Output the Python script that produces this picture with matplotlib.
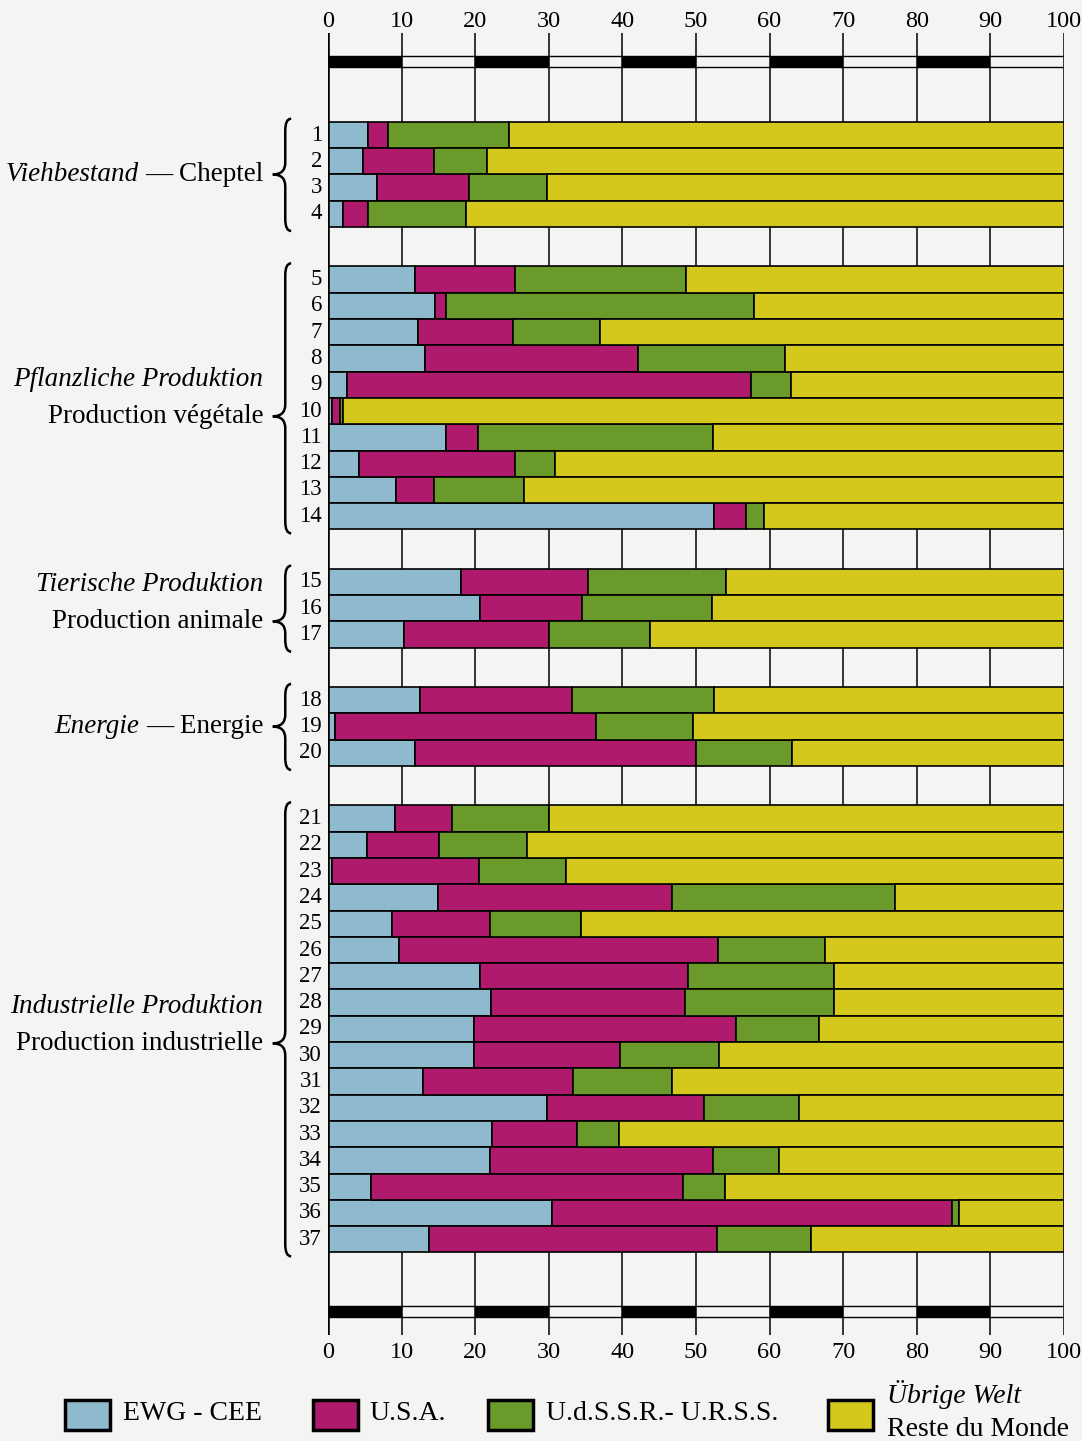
import numpy as np
import matplotlib
matplotlib.use("Agg")
import matplotlib.pyplot as plt
from matplotlib.patches import Rectangle, PathPatch
from matplotlib.path import Path

# shares in percent, rows 1..37
ewg = [5.4, 4.7, 6.7, 2.1,
       11.8, 14.6, 12.2, 13.2, 2.6, 0.5, 16.1, 4.2, 9.2, 52.5,
       18.1, 20.7, 10.4,
       12.5, 1.0, 11.8,
       9.1, 5.3, 0.5, 14.9, 8.7, 9.7, 20.7, 22.2, 19.8, 19.8, 12.9, 29.8, 22.3, 22.0, 5.8, 30.4, 13.7]
usa = [2.8, 9.7, 12.4, 3.4,
       13.6, 1.5, 13.0, 28.9, 54.9, 1.1, 4.3, 21.2, 5.2, 4.3,
       17.2, 13.8, 19.6,
       20.6, 35.4, 38.2,
       7.7, 9.8, 20.0, 31.8, 13.3, 43.3, 28.2, 26.3, 35.6, 19.9, 20.4, 21.3, 11.5, 30.3, 42.4, 54.4, 39.2]
udssr = [16.4, 7.2, 10.6, 13.3,
         23.3, 41.8, 11.7, 20.0, 5.4, 0.5, 31.9, 5.5, 12.2, 2.5,
         18.8, 17.7, 13.7,
         19.4, 13.2, 13.1,
         13.3, 11.9, 11.9, 30.4, 12.4, 14.6, 19.8, 20.2, 11.3, 13.4, 13.5, 12.9, 5.8, 9.0, 5.7, 1.0, 12.8]
rest = [75.4, 78.4, 70.3, 81.2,
        51.3, 42.1, 63.1, 37.9, 37.1, 97.9, 47.7, 69.1, 73.4, 40.7,
        45.9, 47.8, 56.3,
        47.5, 50.4, 36.9,
        69.9, 73.0, 67.6, 22.9, 65.6, 32.4, 31.3, 31.3, 33.3, 46.9, 53.2, 36.0, 60.4, 38.7, 46.1, 14.2, 34.3]

section_sizes = [4, 10, 3, 3, 17]
section_de = ["Viehbestand", "Pflanzliche Produktion", "Tierische Produktion",
              "Energie", "Industrielle Produktion"]
section_fr = ["Cheptel", "Production végétale", "Production animale",
              "Energie", "Production industrielle"]
one_line = [True, False, False, True, False]

series_names = ["EWG - CEE", "U.S.A.", "U.d.S.S.R.- U.R.S.S.", "Übrige Welt"]
colors = ["#8fb9cc", "#b01a6c", "#6a9a2a", "#d5c81c"]
paper = "#f4f4f2"

plt.rcParams["font.family"] = ["Liberation Serif", "DejaVu Serif"]

# row positions: sections separated by a gap of 1.5 rows
ypos = []
start = 0.0
for s in section_sizes:
    ypos.extend(start + np.arange(s))
    start += s + 1.5
ypos = np.array(ypos)

fig = plt.figure(figsize=(10.82, 14.41), dpi=100, facecolor=paper)
ax = fig.add_axes([0.3031, 0.0736, 0.6802, 0.9035])
ax.set_facecolor(paper)
ax.set_xlim(0, 100)
ax.set_ylim(45.64, -3.88)
for sp in ax.spines.values():
    sp.set_visible(False)

# vertical scale lines
ax.vlines(np.arange(10, 101, 10), -3.88, 45.64, color="black", lw=1.1, zorder=1)
ax.vlines(0, -3.88, 45.64, color="black", lw=2.6, zorder=4)

# scale bars at top and bottom
for yb in (-2.81, 44.75):
    h = 0.42
    ax.hlines([yb - h / 2, yb + h / 2], 0, 100, color="black", lw=1.0, zorder=2)
    ax.barh(yb, 10, left=np.arange(0, 100, 20), height=h, color="black", zorder=2)

# stacked bars
left = np.zeros(len(ewg))
for vals, c in zip([ewg, usa, udssr, rest], colors):
    ax.barh(ypos, vals, left=left, height=1.0, color=c, edgecolor="black",
            linewidth=1.2, zorder=3)
    left = left + np.array(vals)

# ticks
ax.set_xticks(np.arange(0, 101, 10))
ax.set_yticks([])
ax.tick_params(axis="x", length=0, pad=5, labelsize=17.5)
top = ax.secondary_xaxis("top")
top.set_xticks(np.arange(0, 101, 10))
top.tick_params(axis="x", length=0, pad=1, labelsize=17.5)
for sp in top.spines.values():
    sp.set_visible(False)

# row numbers
for i, y in enumerate(ypos):
    ax.text(-0.8, y, str(i + 1), ha="right", va="center", fontsize=16.5,
            clip_on=False)


def brace(y0, y1, ytip, x=-5.8, w=1.7, hook=0.8, r=0.45):
    verts = [(x + hook, y0), (x, y0), (x, y0 + r),
             (x, ytip - r),
             (x, ytip), (x - w, ytip),
             (x, ytip), (x, ytip + r),
             (x, y1 - r),
             (x, y1), (x + hook, y1)]
    codes = [Path.MOVETO, Path.CURVE3, Path.CURVE3,
             Path.LINETO,
             Path.CURVE3, Path.CURVE3,
             Path.CURVE3, Path.CURVE3,
             Path.LINETO,
             Path.CURVE3, Path.CURVE3]
    ax.add_patch(PathPatch(Path(verts, codes), fill=False, lw=1.8,
                           edgecolor="black", clip_on=False))


idx = 0
for k, s in enumerate(section_sizes):
    y_first = ypos[idx]
    y_last = ypos[idx + s - 1]
    idx += s
    mid = (y_first + y_last) / 2
    if one_line[k]:
        ytip = mid
        t = ax.text(-8.8, ytip, "— " + section_fr[k], ha="right", va="center",
                    fontsize=19.5, clip_on=False)
        ax.annotate(section_de[k] + " ", xy=(0, 0), xycoords=t, ha="right",
                    va="bottom", fontsize=19.5, style="italic")
    else:
        ytip = mid + 0.7 if s > 3 else mid + 0.5
        if s == 17:
            ytip = mid + 0.55
        ax.text(-8.8, ytip - 1.4, section_de[k], ha="right", va="center",
                fontsize=19.5, style="italic", clip_on=False)
        ax.text(-8.8, ytip, section_fr[k], ha="right", va="center",
                fontsize=19.5, clip_on=False)
    brace(y_first - 0.62, y_last + 0.65, ytip)

# legend
leg_x = [0.060, 0.289, 0.451, 0.765]
leg_tx = [0.114, 0.341, 0.505, 0.820]
for i in range(4):
    fig.add_artist(Rectangle((leg_x[i], 0.0075), 0.042, 0.021, transform=fig.transFigure,
                             facecolor=colors[i], edgecolor="black", lw=2.5))
    if i < 3:
        fig.text(leg_tx[i], 0.019, series_names[i], ha="left", va="center", fontsize=20)
fig.text(leg_tx[3], 0.032, series_names[3], ha="left", va="center", fontsize=20,
         style="italic")
fig.text(leg_tx[3], 0.008, "Reste du Monde", ha="left", va="center", fontsize=20)

fig.savefig("out.png", dpi=100, facecolor=paper)
